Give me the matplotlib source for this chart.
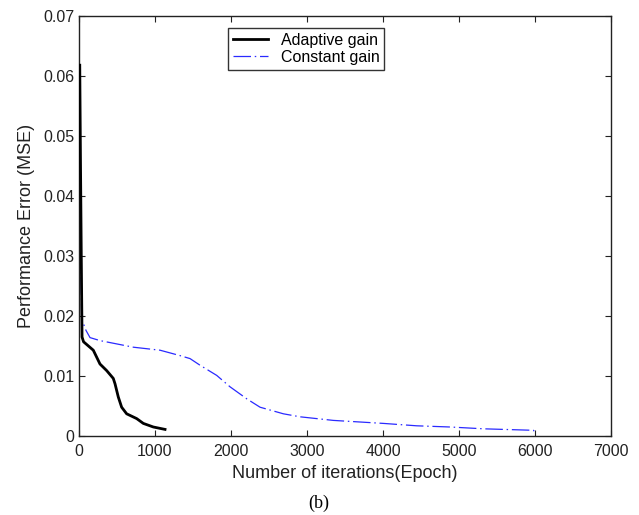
import matplotlib

matplotlib.use("Agg")

import matplotlib.pyplot as plt

# values
adaptive_x = [10, 20, 30, 40, 60, 188, 276, 364, 451, 474, 517, 561, 627, 759, 846, 978, 1132]
adaptive_y = [0.0618, 0.045, 0.030, 0.0165, 0.0157, 0.0143, 0.0120, 0.0109, 0.0096, 0.0087,
              0.0065, 0.0048, 0.0037, 0.0029, 0.0021, 0.0015, 0.0011]

constant_x = [5, 15, 25, 35, 92, 145, 276, 715, 1066, 1329, 1461, 1592, 1812, 1987, 2207,
              2382, 2689, 2908, 3346, 4004, 4443, 4882, 5320, 5978, 6000]
constant_y = [0.0618, 0.050, 0.030, 0.0195, 0.0176, 0.0164, 0.0159, 0.0148, 0.0143, 0.0134,
              0.0129, 0.0118, 0.0101, 0.0082, 0.0062, 0.0048, 0.0037, 0.0032, 0.0026, 0.0021,
              0.0017, 0.0015, 0.0012, 0.00095, 0.0007]

x_ticks = [0, 1000, 2000, 3000, 4000, 5000, 6000, 7000]
y_ticks = [0, 0.01, 0.02, 0.03, 0.04, 0.05, 0.06, 0.07]
y_labels = ["0", "0.01", "0.02", "0.03", "0.04", "0.05", "0.06", "0.07"]

plt.rcParams["font.family"] = ["Liberation Sans", "DejaVu Sans"]

fig = plt.figure(figsize=(6.39, 5.15), dpi=100)
ax = fig.add_axes([79 / 639, 1 - 436 / 515, 532 / 639, 420 / 515])

ax.plot(adaptive_x, adaptive_y, color="black", linewidth=2.0, label="Adaptive gain", zorder=3)
ax.plot(constant_x, constant_y, color="#2a2aff", linewidth=0.9, dashes=(14, 3, 1.2, 3),
        label="Constant gain", zorder=2)

ax.set_xlim(0, 7000)
ax.set_ylim(0, 0.07)
ax.set_xticks(x_ticks)
ax.set_xticklabels([str(t) for t in x_ticks])
ax.set_yticks(y_ticks)
ax.set_yticklabels(y_labels)
ax.tick_params(direction="in", top=True, right=True, length=4, labelsize=11.5, colors="#222222")
ax.tick_params(axis="x", pad=6)
for spine in ax.spines.values():
    spine.set_linewidth(1.0)
    spine.set_color("#222222")

ax.set_xlabel("Number of iterations(Epoch)", fontsize=13, color="#222222", labelpad=4)
ax.set_ylabel("Performance Error (MSE)", fontsize=13, color="#222222", labelpad=6)

leg = ax.legend(loc="upper left", bbox_to_anchor=(0.28, 0.972), frameon=True, fancybox=False,
                fontsize=11.5, handlelength=2.2, borderpad=0.3, labelspacing=0.15,
                borderaxespad=0)
leg.get_frame().set_edgecolor("black")
leg.get_frame().set_linewidth(1.0)

fig.text(319 / 639, 1 - 503 / 515, "(b)", ha="center", va="center", fontsize=13,
         family=["Liberation Serif", "DejaVu Serif"])

plt.savefig("out.png", dpi=100)
plt.close(fig)
